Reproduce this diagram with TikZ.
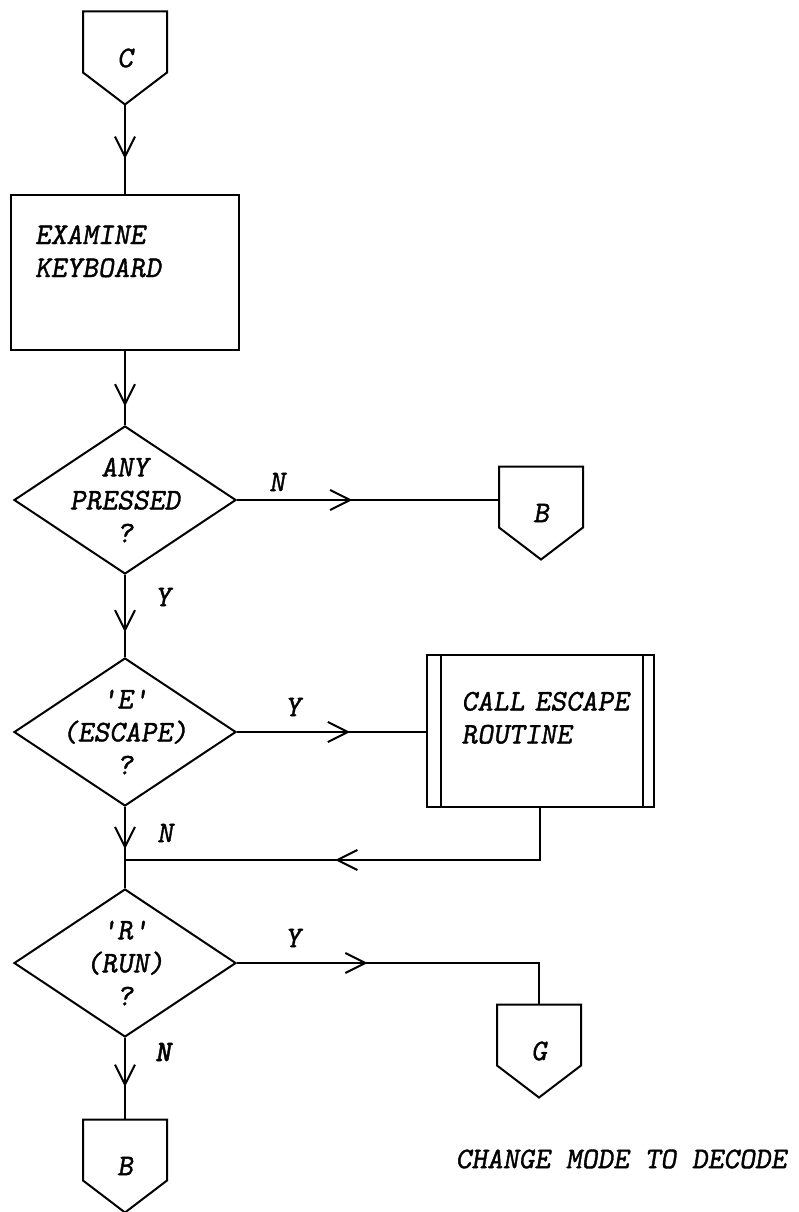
\documentclass[tikz,border=0pt]{standalone}
\usepackage{fontspec}
\setmonofont{lmmono10-regular.otf}[ItalicFont=lmmonoslant10-regular.otf, BoldItalicFont=lmmonolt10-boldoblique.otf, FakeBold=1.2]
\usetikzlibrary{shapes.geometric,arrows.meta,decorations.markings}
\begin{document}
\begin{tikzpicture}[
        x=1pt, y=-1pt,
        font=\ttfamily\itshape\fontsize{30}{33}\selectfont,
        line width=2pt,
        process/.style={draw, rectangle, minimum width=228, minimum height=155, inner xsep=0pt, align=left},
        decision/.style={draw, diamond, aspect=1.5, inner sep=-20pt, minimum width=222, minimum height=148, align=center},
        offpage/.style={rectangle, inner sep=0pt, minimum width=82, minimum height=91,
            append after command={\pgfextra{\let\offnode\tikzlastnode
                \draw (\offnode.north west) -- (\offnode.north east)
                    -- ([yshift=32pt]\offnode.south east) -- (\offnode.south)
                    -- ([yshift=32pt]\offnode.south west) -- cycle;}}},
        lbl/.style={inner sep=0pt},
        flow/.style={postaction={decorate}, decoration={markings,
            mark=at position #1 with {\arrow{Straight Barb[length=20pt,width=20pt]}}}},
    ]
    \useasboundingbox (0,0) rectangle (798,1212);
    \node[offpage] (C) at (125,58) {C};
    \node[process, text width=180, text height=20pt, text depth=76pt] (exam) at (125,272) {EXAMINE\\KEYBOARD};
    \node[decision] (any) at (125,500) {ANY\\PRESSED\\?};
    \node[offpage] (B1) at (541,513) {B};
    \node[decision] (esc) at (125,732) {'E'\\(ESCAPE)\\?};
    \node[process, minimum width=227, minimum height=152, text width=157, text height=20pt, text depth=61pt] (call) at (540,731) {CALL~ESCAPE\\ROUTINE};
    \node[decision] (run) at (125,963) {'R'\\(RUN)\\?};
    \node[offpage] (G) at (539,1051) {G};
    \node[offpage] (B2) at (125,1166) {B};
    \coordinate (merge) at (125,860);

    \draw ([xshift=15pt]call.north west) -- ([xshift=15pt]call.south west);
    \draw ([xshift=-12pt]call.north east) -- ([xshift=-12pt]call.south east);

    \draw[flow=0.61] (C.south) -- (exam.north);
    \draw[flow=0.75] (exam.south) -- (any.north);
    \draw[flow=0.44] (any.east) -- (any.east -| B1.west);
    \draw[flow=0.70] (any.south) -- (esc.north);
    \draw[flow=0.60] (esc.east) -- (esc.east -| call.west);
    \draw[flow=0.52] (esc.south) -- (run.north);
    \draw[flow=0.55] (call.south) |- (merge);
    \draw[flow=0.38] (run.east) -| (G.north);
    \draw[flow=0.60] (run.south) -- (B2.north);

    \node[lbl] (no1) at (277,482) {N};
    \node[lbl] (yes1) at (163,597) {Y};
    \node[lbl] (yes2) at (293,707) {Y};
    \node[lbl] (no2) at (165,833) {N};
    \node[lbl] (yes3) at (293,938) {Y};
    \node[lbl] (no3) at (163,1052) {\bfseries N};
    \node[lbl] (note) at (621,1159) {CHANGE MODE TO DECODE};
\end{tikzpicture}
\end{document}
